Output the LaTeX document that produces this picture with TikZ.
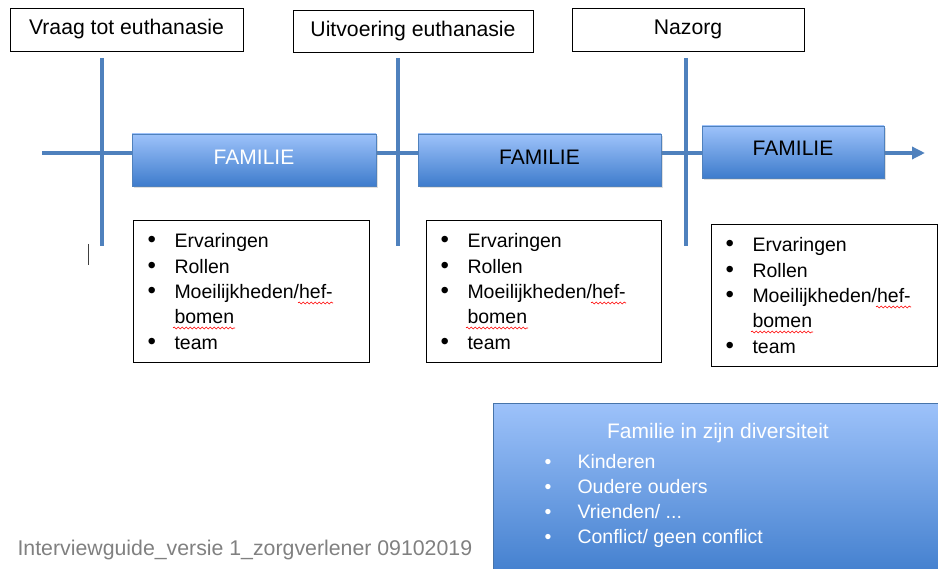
\documentclass[tikz,border=0pt]{standalone}
\usepackage{fontspec}
\setmainfont{Liberation Sans}
\usepackage{tikz}
\usetikzlibrary{positioning,arrows.meta,shadows,decorations.pathmorphing}
\tikzstyle{timeline} = [x = 1pt, y = -1pt]
\definecolor{lineColor}{RGB}{79,129,189}
\definecolor{boxTop}{RGB}{157,194,250}
\definecolor{boxBottom}{RGB}{62,124,204}
\definecolor{footerGray}{RGB}{128,128,128}
\tikzstyle{timeLine} = [color=lineColor, line width=4pt]
\tikzstyle{phaseBox} = [draw=black, line width=0.9pt, fill=white, font=\fontsize{21.2}{25}\selectfont]
\tikzstyle{familyBox} = [draw=lineColor, line width=0.8pt, top color=boxTop, bottom color=boxBottom, minimum height=52pt, text depth=6pt, font=\fontsize{21}{25}\selectfont, drop shadow={opacity=0.25, shadow xshift=2pt, shadow yshift=-2pt}]
\tikzstyle{listBox} = [draw=black, line width=1pt, fill=white, anchor=north west, align=left, inner xsep=14pt, font=\fontsize{19.5}{25.3}\selectfont]
\tikzstyle{spellWave} = [red, line width=0.6pt, decorate, decoration={snake, amplitude=1pt, segment length=4pt}]
\tikzstyle{diversityStyle} = [draw=lineColor!90!black, line width=0.8pt, top color=boxTop, bottom color=boxBottom, anchor=north west]
\tikzstyle{diversityText} = [text=white, font=\fontsize{21}{25}\selectfont]
\newcommand{\bigBullet}{{\fontsize{24}{25}\selectfont\textbullet}}
\newcommand{\bulletItem}[1]{\makebox[27pt][l]{\bigBullet}#1}
\newcommand{\topicList}{%
  \bulletItem{Ervaringen}\\
  \bulletItem{Rollen}\\
  \bulletItem{Moeilijkheden/hef-}\\
  \hspace*{27pt}bomen\\
  \bulletItem{team}}

\begin{document}
\begin{tikzpicture}[timeline]
  \useasboundingbox (0,0) rectangle (938,569);

  % phases on top
  \node[phaseBox, minimum width=233pt, minimum height=43pt] (askPhase) at (126.5,29.5) {Vraag tot euthanasie};
  \node[phaseBox, minimum width=240pt, minimum height=42pt] (carryPhase) at (413,31) {Uitvoering euthanasie};
  \node[phaseBox, minimum width=232pt, minimum height=43pt] (afterPhase) at (688,29.5) {Nazorg};

  % time axis
  \coordinate (timeStart) at (42,153);
  \coordinate (timeEnd) at (925,153);
  \draw[timeLine, -{Triangle[length=13pt,width=12pt]}] (timeStart) -- (timeEnd);
  \foreach \markX/\markName in {102/markOne, 398/markTwo, 686/markThree} {
    \coordinate (\markName Top) at (\markX,58);
    \coordinate (\markName Bottom) at (\markX,246);
    \draw[timeLine] (\markName Top) -- (\markName Bottom);
  }

  \node[familyBox, minimum width=244pt, text=white] (familyOne) at (254,160) {FAMILIE};
  \node[familyBox, minimum width=243pt] (familyTwo) at (539.5,160) {FAMILIE};
  \node[familyBox, minimum width=182pt, text depth=8pt] (familyThree) at (793,152) {FAMILIE};

  % topic lists
  \node[listBox, text width=208pt, minimum height=142pt] (listOne) at (133,220) {\topicList};
  \node[listBox, text width=207pt, minimum height=142pt] (listTwo) at (426,220) {\topicList};
  \node[listBox, text width=198pt, minimum height=142pt] (listThree) at (711,224) {\topicList};
  \foreach \listName in {listOne, listTwo, listThree} {
    \draw[spellWave, shift={(\listName.north west)}] (165,83) -- (200,83);
    \draw[spellWave, shift={(\listName.north west)}] (40,108) -- (102,108);
  }
  \draw[line width=1pt, black!75] (88,244) -- (88,265);

  % family diversity
  \node[diversityStyle, minimum width=460pt, minimum height=180pt] (diversityBox) at (493,403) {};
  \node[diversityText] (diversityTitle) at (718,433) {Familie in zijn diversiteit};
  \node[diversityText, anchor=west, align=left, font=\fontsize{19.5}{25}\selectfont] (diversityList) at (541,500.5) {%
    \makebox[33pt][l]{\textbullet}Kinderen\\
    \makebox[33pt][l]{\textbullet}Oudere ouders\\
    \makebox[33pt][l]{\textbullet}Vrienden/ ...\\
    \makebox[33pt][l]{\textbullet}Conflict/ geen conflict};

  \node[anchor=west, text=footerGray, font=\fontsize{21.3}{25}\selectfont] (footer) at (14,550) {Interviewguide\_versie 1\_zorgverlener 09102019};
\end{tikzpicture}
\end{document}
